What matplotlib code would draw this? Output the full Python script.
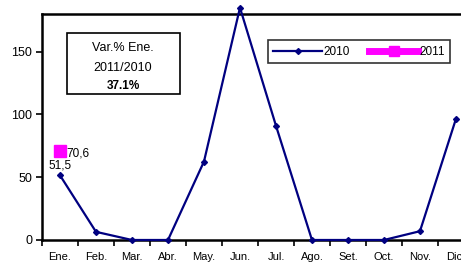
import matplotlib.pyplot as plt
from matplotlib.lines import Line2D
from matplotlib.patches import Rectangle

plt.rcParams['font.family'] = ['Liberation Sans', 'DejaVu Sans']

months = ["Ene.", "Feb.", "Mar.", "Abr.", "May.", "Jun.", "Jul.", "Ago.", "Set.", "Oct.", "Nov.", "Dic."]
v2010 = [51.5, 6.5, 0, 0, 62.5, 185, 91, 0, 0, 0, 7, 96.5]
v2011 = [70.6]

fig = plt.figure(figsize=(4.61, 2.62), dpi=100)
ax = fig.add_axes([0.0911, 0.084, 0.937, 0.8626])

x = list(range(len(months)))
ax.plot(x, v2010, color="#000080", lw=1.6, marker="D", ms=3, clip_on=False, zorder=3)
ax.plot([0], v2011, color="#FF00FF", marker="s", ms=9, ls="none", zorder=4)

ax.text(0, v2010[0] + 3, "51,5", ha="center", va="bottom", fontsize=8.5)
ax.text(0.18, v2011[0] - 2, "70,6", ha="left", va="center", fontsize=8.5)

ax.set_xlim(-0.5, 11.5)
ax.set_ylim(0, 180)
ax.set_yticks([0, 50, 100, 150])
ax.set_xticks([i - 0.5 for i in range(13)])
ax.set_xticklabels([])
ax.set_xticks(x, minor=True)
ax.set_xticklabels(months, minor=True, fontsize=8)
ax.tick_params(axis="x", which="major", direction="out", length=4, width=1.2)
ax.tick_params(axis="x", which="minor", length=0, pad=9)
ax.tick_params(axis="y", direction="out", length=4, width=1.2, labelsize=9, pad=3)
for s in ax.spines.values():
    s.set_linewidth(1.8)
ax.spines["right"].set_visible(False)

# variation box
fig.add_artist(Rectangle((0.145, 0.641), 0.245, 0.233, transform=fig.transFigure,
                         fill=False, ec="black", lw=1.2))
fig.text(0.267, 0.817, "Var.% Ene.", ha="center", va="center", fontsize=9)
fig.text(0.267, 0.741, "2011/2010", ha="center", va="center", fontsize=9)
fig.text(0.267, 0.672, "37.1%", ha="center", va="center", fontsize=8.5, fontweight="bold")

handles = [Line2D([], [], color="#000080", lw=1.6, marker="D", ms=3),
           Line2D([], [], color="#FF00FF", lw=5, marker="s", ms=7)]
leg = fig.legend(handles, ["2010", "2011"], loc="upper right", bbox_to_anchor=(0.99, 0.868),
                 ncol=2, frameon=True, fancybox=False, fontsize=8.5, handlelength=4.2,
                 columnspacing=1.6, handletextpad=0.1, borderpad=0.45)
leg.get_frame().set_edgecolor("black")
leg.get_frame().set_linewidth(1.2)

fig.savefig("out.png", dpi=100)
